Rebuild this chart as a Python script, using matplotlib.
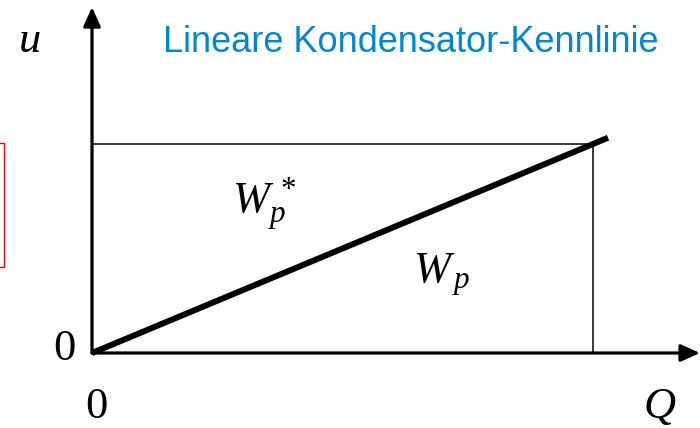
import matplotlib
matplotlib.use('Agg')
import matplotlib.pyplot as plt
from matplotlib.patches import Rectangle

# characteristic u = Q / C (normalised units, operating point at Q=1, u=1)
Q_line = [0.0, 1.03]
u_line = [0.0, 1.03]
Q_op = 1.0
u_op = 1.0

title = 'Lineare Kondensator-Kennlinie'
label_u = '$u$'
label_Q = '$Q$'
label_Wp_star = '$W_p^{\\,*}$'
label_Wp = '$W_{\\,p}$'

plt.rcParams['mathtext.fontset'] = 'custom'
plt.rcParams['mathtext.rm'] = 'Liberation Serif'
plt.rcParams['mathtext.it'] = 'Liberation Serif:italic'

fig = plt.figure(figsize=(7, 4.28), dpi=100)
ax = fig.add_axes([0, 0, 1, 1])
ax.set_xlim(-92/501, 608/501)
ax.set_ylim(-75/209, 353/209)
ax.axis('off')

# axes with arrow heads
arrow = dict(arrowstyle='-|>,head_length=0.4,head_width=0.18',
             mutation_scale=29, lw=2.3, color='black',
             shrinkA=0, shrinkB=0)
ax.annotate('', xy=(1.2136, 0), xytext=(0, 0), arrowprops=arrow)
ax.annotate('', xy=(0, 1.655), xytext=(0, 0), arrowprops=arrow)

# operating point rectangle
ax.plot([0, Q_op, Q_op], [u_op, u_op, 0], color='black', lw=1.1)

# characteristic
ax.plot(Q_line, u_line, color='black', lw=4.3, solid_capstyle='butt')

serif = 'Liberation Serif'
ax.text(-0.148, 1.44, label_u, fontsize=32, ha='left', va='baseline')
ax.text(1.10, -0.311, label_Q, fontsize=32, ha='left', va='baseline')
ax.text(-0.078, -0.034, '0', family=serif, fontsize=32, ha='left', va='baseline')
ax.text(-0.014, -0.311, '0', family=serif, fontsize=32, ha='left', va='baseline')
ax.text(0.279, 0.67, label_Wp_star, fontsize=32, ha='left', va='baseline')
ax.text(0.641, 0.335, label_Wp, fontsize=32, ha='left', va='baseline')

fig.text(411/700, 1 - 42/428, title, family='Liberation Sans', fontsize=26,
         color='#0087CD', ha='center', va='center')

# red frame cut off at the left edge
fig.patches.append(Rectangle((-10/700, 1 - 267/428), 14/700, 124/428,
                             transform=fig.transFigure, fill=False,
                             edgecolor='#FF0000', lw=1.0))

fig.savefig('out.png', dpi=100)
